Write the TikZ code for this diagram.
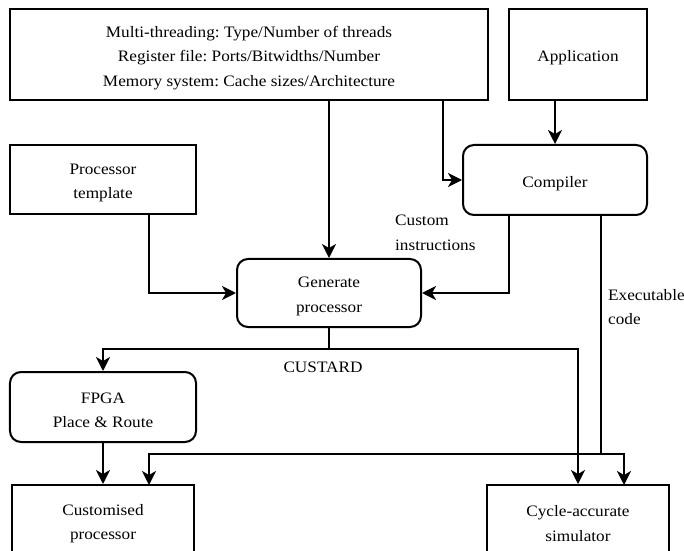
\documentclass[tikz,border=0pt]{standalone}
\usepackage{fontspec}
\setmainfont{Liberation Serif}[FakeStretch=1.08]
\usetikzlibrary{arrows.meta}
\begin{document}
\frenchspacing
\begin{tikzpicture}[x=1bp,y=-1bp,
  every node/.style={font=\fontsize{16}{24.5}\selectfont},
  box/.style={draw,line width=2bp,inner sep=0pt},
  rbox/.style={box,rounded corners=11bp},
  txt/.style={label={[align=center,inner sep=0pt,yshift=-3.5bp]center:#1}},
  lbl/.style={inner sep=0pt,align=left,anchor=north west},
  arr/.style={line width=2bp,-{Stealth[length=14bp,width=14bp,inset=4bp]}},
  ln/.style={line width=2bp}]
\useasboundingbox (0,0) rectangle (684,551);
\clip (0,0) rectangle (684,551);
\node[box,minimum width=478bp,minimum height=91bp,
  txt={Multi-threading: Type/Number of threads\\Register file: Ports/Bitwidths/Number\\Memory system: Cache sizes/Architecture}] (top) at (249,54.5) {};
\node[box,minimum width=138bp,minimum height=91bp,txt={Application}] (app) at (578,54.5) {};
\node[box,minimum width=186bp,minimum height=69bp,txt={Processor\\template}] (tmpl) at (103,179.5) {};
\node[rbox,minimum width=184bp,minimum height=70bp,txt={Compiler}] (comp) at (555,180) {};
\node[rbox,minimum width=184bp,minimum height=68bp,txt={Generate\\processor}] (gen) at (329,293) {};
\node[rbox,minimum width=186bp,minimum height=70bp,txt={FPGA\\Place \& Route}] (fpga) at (103,407) {};
\node[box,minimum width=182bp,minimum height=70bp,txt={Customised\\processor}] (cust) at (103,520) {};
\node[box,minimum width=182bp,minimum height=70bp,txt={Cycle-accurate\\simulator}] (sim) at (578,520) {};
\node[lbl] (ci) at (395,215) {Custom\\instructions};
\node[lbl] (ec) at (608,289) {Executable\\code};
\node[inner sep=0pt] (cu) at (323,367) {CUSTARD};
\coordinate (t2) at (443,100);
\coordinate (tp) at (149,214);
\coordinate (cp) at (509,214);
\coordinate (ce) at (601,214);
\coordinate (j1) at (329,349);
\coordinate (j2) at (601,454);
\draw[arr] (top.south -| gen.north) -- (gen.north);
\draw[arr] (t2) |- (comp.west);
\draw[arr] (app.south -| comp.north) -- (comp.north);
\draw[arr] (tp) |- (gen.west);
\draw[arr] (cp) |- (gen.east);
\draw[ln] (gen.south) -- (j1);
\draw[arr] (j1) -| (fpga.north);
\draw[arr] (j1) -| (sim.north);
\draw[arr] (fpga.south) -- (cust.north);
\draw[ln] (ce) -- (j2);
\draw[arr] (j2) -| (624,485);
\draw[arr] (j2) -| (149,485);
\end{tikzpicture}
\end{document}
